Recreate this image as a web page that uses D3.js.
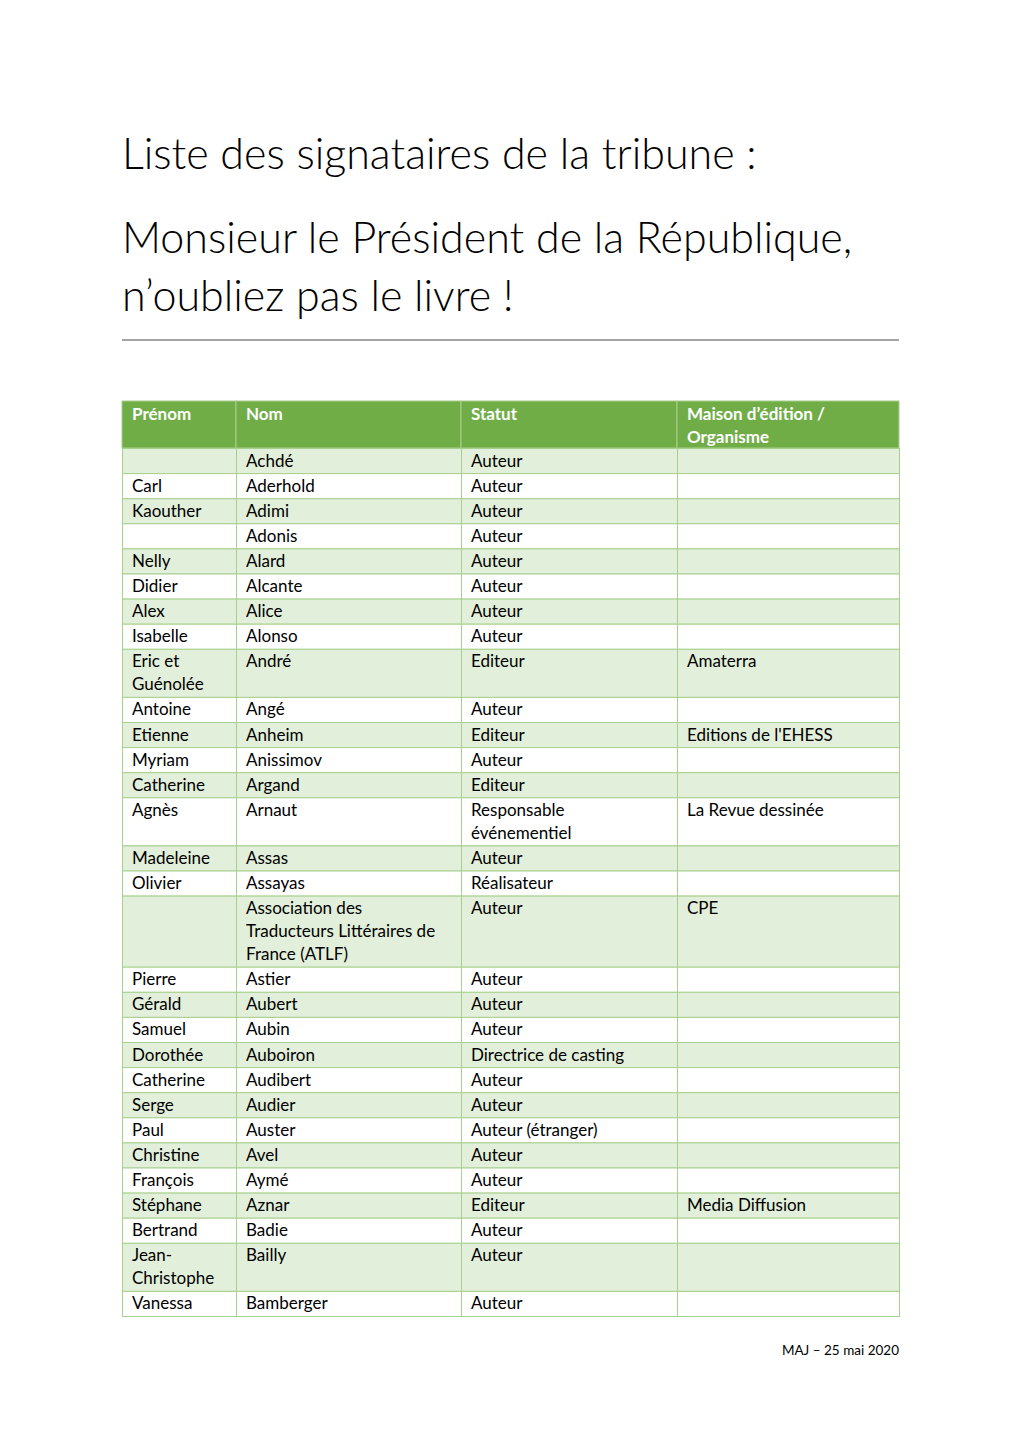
<!DOCTYPE html>
<html>
<head>
<meta charset="utf-8">
<script src="https://cdn.jsdelivr.net/npm/d3@7"></script>
<style>
  body { margin: 0; background: #fff; }
  text { font-family: Lato, "Open Sans", sans-serif; }
</style>
</head>
<body>
<svg id="page" width="1020" height="1442"></svg>
<script>
var titleLines = ["Liste des signataires de la tribune :", "Monsieur le Président de la République,", "n\u2019oubliez pas le livre !"];
var headers = ["Prénom", "Nom", "Statut", "Maison d\u2019édition /\nOrganisme"];

var prenoms = ["", "Carl", "Kaouther", "", "Nelly", "Didier", "Alex", "Isabelle", "Eric et\nGuénolée", "Antoine",
  "Etienne", "Myriam", "Catherine", "Agnès", "Madeleine", "Olivier", "", "Pierre", "Gérald", "Samuel",
  "Dorothée", "Catherine", "Serge", "Paul", "Christine", "François", "Stéphane", "Bertrand", "Jean-\nChristophe", "Vanessa"];
var noms = ["Achdé", "Aderhold", "Adimi", "Adonis", "Alard", "Alcante", "Alice", "Alonso", "André", "Angé",
  "Anheim", "Anissimov", "Argand", "Arnaut", "Assas", "Assayas", "Association des\nTraducteurs Littéraires de\nFrance (ATLF)", "Astier", "Aubert", "Aubin",
  "Auboiron", "Audibert", "Audier", "Auster", "Avel", "Aymé", "Aznar", "Badie", "Bailly", "Bamberger"];
var statuts = ["Auteur", "Auteur", "Auteur", "Auteur", "Auteur", "Auteur", "Auteur", "Auteur", "Editeur", "Auteur",
  "Editeur", "Auteur", "Editeur", "Responsable\névénementiel", "Auteur", "Réalisateur", "Auteur", "Auteur", "Auteur", "Auteur",
  "Directrice de casting", "Auteur", "Auteur", "Auteur (étranger)", "Auteur", "Auteur", "Editeur", "Auteur", "Auteur", "Auteur"];
var maisons = ["", "", "", "", "", "", "", "", "Amaterra", "",
  "Editions de l'EHESS", "", "", "La Revue dessinée", "", "", "CPE", "", "", "",
  "", "", "", "", "", "", "Media Diffusion", "", "", ""];
var footer = "MAJ \u2013 25 mai 2020";

var svg = d3.select("#page");
var left = 122, right = 899;
var colEdges = [122, 236, 461, 677, 899];
var lineH = 23, pad = 2.1, textPad = 10;
var green = "#70ad47", band = "#e2efda", rule = "#a8d08d";

// title block
svg.selectAll(".title")
  .data(titleLines)
  .enter().append("text")
    .attr("class", "title")
    .attr("x", left)
    .attr("y", function(d, i) { return [169, 253, 311][i]; })
    .attr("font-size", 43)
    .attr("font-weight", 300)
    .attr("fill", "#000")
    .text(function(d) { return d; });

svg.append("line")
  .attr("x1", left).attr("x2", right)
  .attr("y1", 340).attr("y2", 340)
  .attr("stroke", "#a5a5a5").attr("stroke-width", 2);

// rows
var rows = prenoms.map(function(p, i) {
  return [p, noms[i], statuts[i], maisons[i]];
});
var tableTop = 401;
var headH = 2 * lineH;
var y = tableTop + headH + 1;
var layout = rows.map(function(r, i) {
  var n = d3.max(r, function(c) { return c.split("\n").length; });
  var h = pad + n * lineH;
  var o = {cells: r, y: y, h: h, i: i};
  y += h;
  return o;
});

var x = d3.scaleOrdinal().domain(d3.range(4)).range(colEdges.slice(0, 4));
function colW(j) { return colEdges[j + 1] - colEdges[j]; }

// header
var head = svg.append("g");
head.selectAll("rect")
  .data(headers)
  .enter().append("rect")
    .attr("x", function(d, j) { return x(j); })
    .attr("y", tableTop)
    .attr("width", function(d, j) { return colW(j); })
    .attr("height", headH + 1)
    .attr("fill", green)
    .attr("stroke", rule)
    .attr("stroke-width", 1);
head.selectAll("text")
  .data(headers)
  .enter().append("text")
    .attr("fill", "#fff")
    .attr("font-weight", "bold")
    .attr("font-size", 17)
  .each(function(d, j) {
    d3.select(this).selectAll("tspan")
      .data(d.split("\n"))
      .enter().append("tspan")
        .attr("x", x(j) + textPad)
        .attr("y", function(t, k) { return tableTop + 19 + k * lineH; })
        .text(function(t) { return t; });
  });

var row = svg.selectAll(".row")
  .data(layout)
  .enter().append("g")
    .attr("class", "row");

row.selectAll("rect")
  .data(function(d) { return d.cells.map(function(c) { return {r: d, c: c}; }); })
  .enter().append("rect")
    .attr("x", function(d, j) { return x(j) + 0.5; })
    .attr("y", function(d) { return d.r.y + 0.5; })
    .attr("width", function(d, j) { return colW(j); })
    .attr("height", function(d) { return d.r.h; })
    .attr("fill", function(d) { return d.r.i % 2 == 0 ? band : "#fff"; })
    .attr("stroke", rule)
    .attr("stroke-width", 1);

row.selectAll("text")
  .data(function(d) { return d.cells.map(function(c) { return {r: d, c: c}; }); })
  .enter().append("text")
    .attr("fill", "#000")
    .attr("font-size", 17)
  .each(function(d, j) {
    d3.select(this).selectAll("tspan")
      .data(d.c.split("\n"))
      .enter().append("tspan")
        .attr("x", x(j) + textPad)
        .attr("y", function(t, k) { return d.r.y + 18.5 + k * lineH; })
        .text(function(t) { return t; });
  });

svg.append("text")
  .attr("x", right)
  .attr("y", 1355)
  .attr("text-anchor", "end")
  .attr("font-size", 13.5)
  .attr("fill", "#000")
  .text(footer);
</script>
</body>
</html>
